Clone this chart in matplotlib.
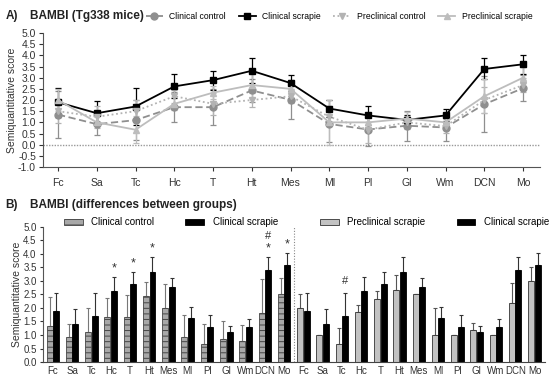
import numpy as np
import matplotlib
matplotlib.use("Agg")
import matplotlib.pyplot as plt
from matplotlib.lines import Line2D

plt.rcParams['font.family'] = ['Liberation Sans', 'DejaVu Sans']
plt.rcParams['hatch.linewidth'] = 0.7

regions = ['Fc', 'Sa', 'Tc', 'Hc', 'T', 'Ht', 'Mes', 'Ml', 'Pl', 'Gl', 'Wm', 'DCN', 'Mo']

# clinical control
cc_mean = [1.35, 0.92, 1.10, 1.68, 1.68, 2.43, 2.01, 0.93, 0.68, 0.85, 0.77, 1.81, 2.53]
cc_sd = [1.07, 0.50, 0.91, 0.68, 0.80, 0.51, 0.87, 0.80, 0.74, 0.68, 0.60, 1.26, 0.59]
# clinical scrapie
cs_mean = [1.90, 1.41, 1.71, 2.61, 2.89, 3.31, 2.76, 1.62, 1.31, 1.11, 1.31, 3.39, 3.60]
cs_sd = [0.66, 0.55, 0.83, 0.54, 0.43, 0.56, 0.35, 0.40, 0.44, 0.22, 0.27, 0.47, 0.43]
# preclinical control
pc_mean = [1.50, 1.25, 1.50, 2.17, 1.83, 2.00, 2.17, 1.25, 0.67, 1.00, 0.83, 2.00, 2.67]
pc_sd = [0.55, 0.50, 0.50, 0.30, 0.50, 0.30, 0.30, 0.30, 0.60, 0.30, 0.30, 0.60, 0.30]
# preclinical scrapie
ps_mean = [2.00, 1.00, 0.67, 1.83, 2.33, 2.67, 2.50, 1.00, 1.00, 1.17, 1.00, 2.17, 3.00]
ps_sd = [0.50, 0.00, 0.60, 0.29, 0.29, 0.56, 0.00, 1.00, 0.00, 0.29, 0.00, 0.76, 0.50]

# significance marks (B)
stars_left = ['Hc', 'T', 'Ht', 'DCN', 'Mo']
hash_left = ['DCN']
hash_right = ['Tc']

CC_COL = '#8f8f8f'
PC_COL = '#b3b3b3'
PS_COL = '#bdbdbd'

fig = plt.figure(figsize=(5.5, 3.84), dpi=100)

# ---------------- panel A ----------------
axA = fig.add_axes([0.078, 0.565, 0.904, 0.349])
x = np.arange(len(regions))
series = [
    ('Clinical control', cc_mean, cc_sd, CC_COL, 'o', (0, (4, 2))),
    ('Clinical scrapie', cs_mean, cs_sd, 'black', 's', '-'),
    ('Preclinical control', pc_mean, pc_sd, PC_COL, 'v', (0, (1, 1.5))),
    ('Preclinical scrapie', ps_mean, ps_sd, PS_COL, '^', '-'),
]
handles = []
for name, m, s, c, mk, ls in series:
    axA.errorbar(x, m, yerr=s, color=c, fmt='none', capsize=2.5, elinewidth=0.9, capthick=0.9, zorder=2)
    axA.plot(x, m, color=c, linestyle=ls, linewidth=1.3, marker=mk, markersize=5, zorder=3)
    handles.append(Line2D([], [], color=c, linestyle=ls, linewidth=1.3, marker=mk, markersize=5))
axA.axhline(0, color='#999999', linestyle=(0, (1, 1)), linewidth=1, zorder=1)
axA.set_ylim(-1, 5)
axA.set_xlim(-0.39, 12.44)
axA.set_yticks(np.arange(-1, 5.01, 0.5))
axA.set_yticklabels([f'{v:.1f}' for v in np.arange(-1, 5.01, 0.5)])
axA.set_xticks(x)
axA.set_xticklabels(regions)
axA.set_ylabel('Semiquantitative score', fontsize=7.5, color='#333333', labelpad=1)
for sp in ['top', 'right']:
    axA.spines[sp].set_visible(False)
for sp in ['left', 'bottom']:
    axA.spines[sp].set_color('#555555')
axA.tick_params(labelsize=7.5, colors='#333333', length=3, width=0.8, pad=2)
axA.tick_params(axis='x', pad=5)

fig.text(0.01, 0.958, 'A)', fontsize=8.5, fontweight='bold', va='center', color='#222222')
fig.text(0.055, 0.958, 'BAMBI (Tg338 mice)', fontsize=8.5, fontweight='bold', va='center', color='#222222')
fig.legend(handles, [s[0] for s in series], loc='center left', bbox_to_anchor=(0.265, 0.958),
           ncol=4, frameon=False, fontsize=6.2, handlelength=2.0, columnspacing=1.5,
           handletextpad=0.7, borderaxespad=0, borderpad=0)

# ---------------- panel B ----------------
axB = fig.add_axes([0.078, 0.057, 0.913, 0.353])
n = len(regions)
xl = np.arange(n)
xr = np.arange(n) + n
w = 0.31
off = 0.17

b_cc = axB.bar(xl - off, cc_mean, w, color='#a8a8a8', edgecolor='#444444', linewidth=0.6,
               hatch='---', zorder=2)
b_cs1 = axB.bar(xl + off, cs_mean, w, color='black', edgecolor='black', linewidth=0.6, zorder=2)
b_ps = axB.bar(xr - off, ps_mean, w, color='#c2c2c2', edgecolor='#333333', linewidth=0.6, zorder=2)
b_cs2 = axB.bar(xr + off, cs_mean, w, color='black', edgecolor='black', linewidth=0.6, zorder=2)

zero = np.zeros(n)
axB.errorbar(xl - off, cc_mean, yerr=[zero, cc_sd], fmt='none', ecolor='#777777',
             capsize=1.5, elinewidth=0.8, capthick=0.8, zorder=1)
axB.errorbar(xl + off, cs_mean, yerr=[zero, cs_sd], fmt='none', ecolor='#333333',
             capsize=1.5, elinewidth=0.8, capthick=0.8, zorder=1)
axB.errorbar(xr - off, ps_mean, yerr=[zero, ps_sd], fmt='none', ecolor='#555555',
             capsize=1.5, elinewidth=0.8, capthick=0.8, zorder=1)
axB.errorbar(xr + off, cs_mean, yerr=[zero, cs_sd], fmt='none', ecolor='#333333',
             capsize=1.5, elinewidth=0.8, capthick=0.8, zorder=1)

for r in stars_left:
    i = regions.index(r)
    axB.text(i + off, cs_mean[i] + cs_sd[i] + 0.32, '*', ha='center', va='center',
             fontsize=9, color='#333333')
for r in hash_left:
    i = regions.index(r)
    axB.text(i + off, cs_mean[i] + cs_sd[i] + 0.8, '#', ha='center', va='center',
             fontsize=8, color='#333333')
for r in hash_right:
    i = regions.index(r)
    axB.text(n + i + off, cs_mean[i] + cs_sd[i] + 0.45, '#', ha='center', va='center',
             fontsize=8, color='#333333')

axB.axvline(n - 0.5, color='#888888', linestyle=(0, (1, 1.5)), linewidth=0.8)
axB.set_ylim(0, 5)
axB.set_xlim(-0.52, 2 * n - 0.45)
axB.set_yticks(np.arange(0, 5.01, 0.5))
axB.set_yticklabels([f'{v:.1f}' for v in np.arange(0, 5.01, 0.5)])
axB.set_xticks(np.concatenate([xl, xr]))
axB.set_xticklabels(regions + regions)
axB.set_ylabel('Semiquantitative score', fontsize=7.5, color='#333333', labelpad=1)
for sp in ['top', 'right']:
    axB.spines[sp].set_visible(False)
axB.spines['left'].set_color('#555555')
axB.spines['bottom'].set_color('#444444')
axB.spines['bottom'].set_linestyle((0, (2, 1)))
axB.tick_params(labelsize=7, colors='#333333', length=2.5, width=0.8, pad=2)
axB.tick_params(axis='x', length=0, pad=3)

fig.text(0.01, 0.467, 'B)', fontsize=8.5, fontweight='bold', va='center', color='#222222')
fig.text(0.055, 0.467, 'BAMBI (differences between groups)', fontsize=8.5, fontweight='bold',
         va='center', color='#222222')

leg_kw = dict(loc='center', ncol=2, frameon=False, fontsize=7, handlelength=1.9,
              handleheight=0.55, columnspacing=3.2, handletextpad=0.9, borderaxespad=0)
leg1 = axB.legend([b_cc, b_cs1], ['Clinical control', 'Clinical scrapie'],
                  bbox_to_anchor=(0.255, 1.03), **leg_kw)
axB.add_artist(leg1)
axB.legend([b_ps, b_cs2], ['Preclinical scrapie', 'Clinical scrapie'],
           bbox_to_anchor=(0.78, 1.03), **leg_kw)

fig.savefig('out.png', dpi=100)
